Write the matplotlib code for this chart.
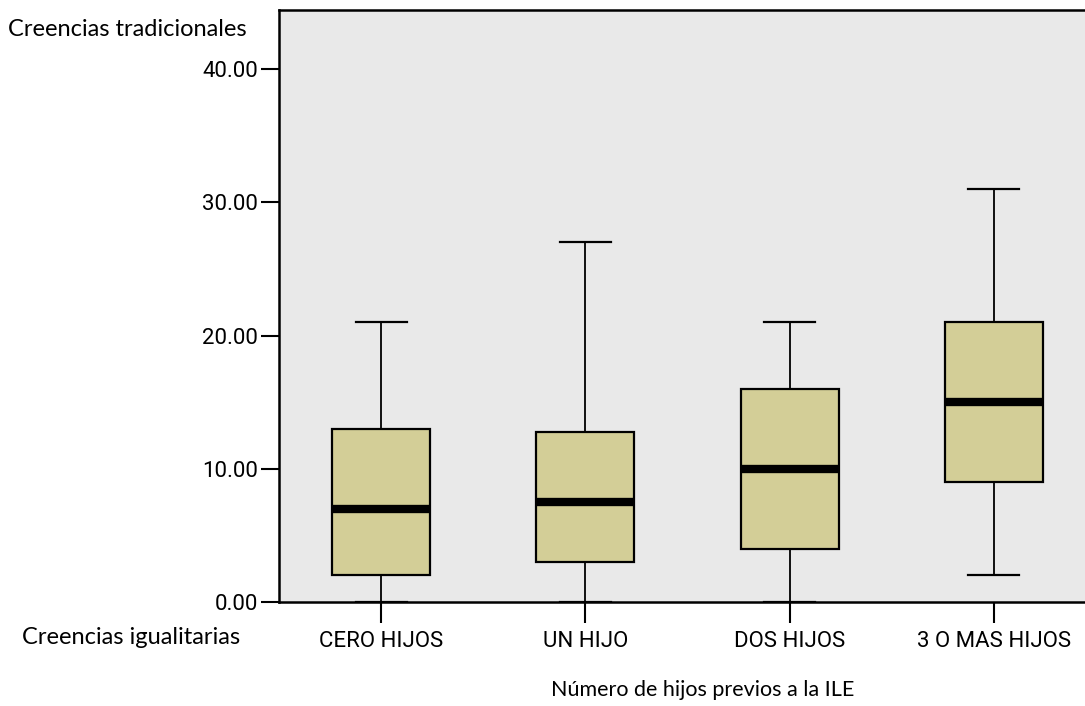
import matplotlib
matplotlib.use("Agg")
import matplotlib.pyplot as plt

# values
categories = ["CERO HIJOS", "UN HIJO", "DOS HIJOS", "3 O MAS HIJOS"]
whisker_low = [0.0, 0.0, 0.0, 2.0]
q1 = [2.0, 3.0, 4.0, 9.0]
median = [7.0, 7.5, 10.0, 15.0]
q3 = [13.0, 12.75, 16.0, 21.0]
whisker_high = [21.0, 27.0, 21.0, 31.0]
y_ticks = [0, 10, 20, 30, 40]

box_color = "#D3CE97"
narrow = ["Liberation Sans Narrow", "Roboto", "DejaVu Sans"]
side_font = ["Lato", "DejaVu Sans"]

stats = []
for i, name in enumerate(categories):
    stats.append({
        "label": name,
        "whislo": whisker_low[i],
        "q1": q1[i],
        "med": median[i],
        "q3": q3[i],
        "whishi": whisker_high[i],
        "fliers": [],
    })

fig = plt.figure(figsize=(10.85, 7.06), dpi=100)
ax = fig.add_axes([279 / 1085, 104 / 706, 817 / 1085, 592 / 706])
ax.set_facecolor("#E9E9E9")

ax.bxp(stats, positions=range(len(categories)), widths=0.48, capwidths=0.25,
       patch_artist=True, showfliers=False,
       boxprops=dict(facecolor=box_color, edgecolor="black", linewidth=1.6),
       medianprops=dict(color="black", linewidth=6, solid_capstyle="butt"),
       whiskerprops=dict(color="black", linewidth=1.3),
       capprops=dict(color="black", linewidth=1.6))

ax.set_xlim(-0.5, len(categories) - 0.5)
ax.set_ylim(0, 44.43)
ax.set_yticks(y_ticks)
ax.set_yticklabels([f"{v:.2f}" for v in y_ticks], family=narrow, fontsize=16)
ax.set_xticks(range(len(categories)))
ax.set_xticklabels(categories, family=narrow, fontsize=16)
ax.tick_params(axis="y", length=13, width=1.5, pad=2)
ax.tick_params(axis="x", length=15, width=1.5, pad=6)

for side in ["left", "top", "bottom", "right"]:
    ax.spines[side].set_linewidth(1.8)
ax.spines["right"].set_visible(False)

fig.text(8 / 1085, 1 - 29 / 706, "Creencias tradicionales", family=side_font,
         fontsize=17, ha="left", va="center")
fig.text(22 / 1085, 1 - 637 / 706, "Creencias igualitarias", family=side_font,
         fontsize=17, ha="left", va="center")
fig.text(703 / 1085, 1 - 690 / 706, "Número de hijos previos a la ILE",
         family=side_font, fontsize=15.5, ha="center", va="center")

fig.savefig("out.png", dpi=100, facecolor="white")
